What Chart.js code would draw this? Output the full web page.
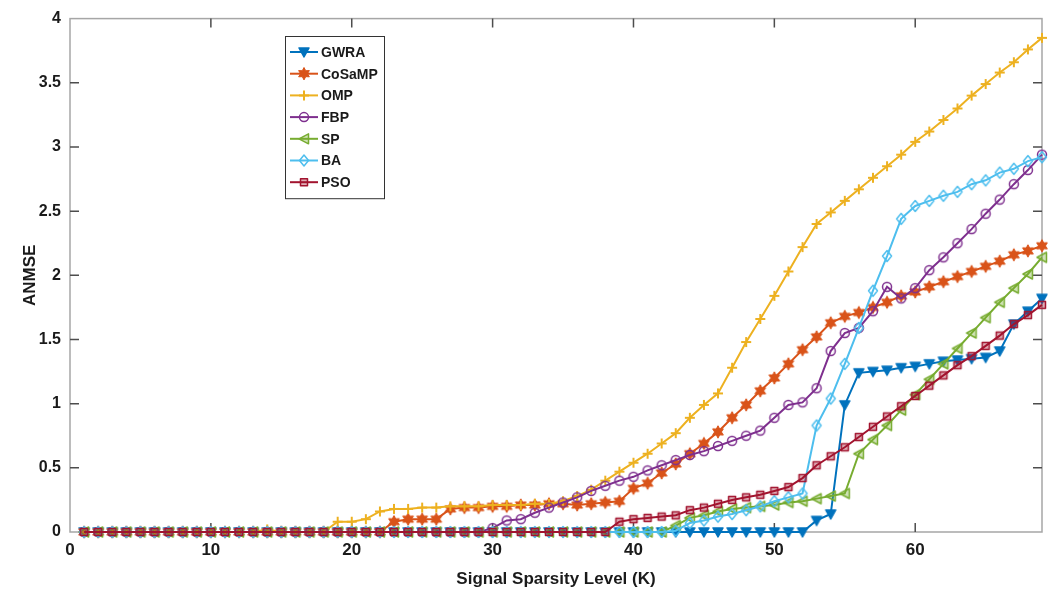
<!DOCTYPE html>
<html>
<head>
<meta charset="utf-8">
<script src="https://cdn.jsdelivr.net/npm/chart.js@4/dist/chart.umd.min.js"></script>
<style>
  html, body { margin: 0; padding: 0; background: #ffffff; }
  #wrap { width: 1052px; height: 599px; }
</style>
</head>
<body>
<div id="wrap"><canvas id="c" width="1052" height="599"></canvas></div>
<script>
// Sparsity levels K (x axis)
const sparsityLevels = [
  1, 2, 3, 4, 5, 6, 7, 8, 9, 10, 11, 12, 13, 14, 15, 16, 17, 18, 19, 20,
  21, 22, 23, 24, 25, 26, 27, 28, 29, 30, 31, 32, 33, 34, 35, 36, 37, 38, 39, 40,
  41, 42, 43, 44, 45, 46, 47, 48, 49, 50, 51, 52, 53, 54, 55, 56, 57, 58, 59, 60,
  61, 62, 63, 64, 65, 66, 67, 68, 69
];

const xTickValues = [0, 10, 20, 30, 40, 50, 60];
const yTickValues = [0, 0.5, 1, 1.5, 2, 2.5, 3, 3.5, 4];

// ANMSE per algorithm, one value per sparsity level
const gwra = [
  0, 0, 0, 0, 0, 0, 0, 0, 0, 0, 0, 0, 0, 0, 0, 0, 0, 0, 0, 0,
  0, 0, 0, 0, 0, 0, 0, 0, 0, 0, 0, 0, 0, 0, 0, 0, 0, 0, 0, 0,
  0, 0, 0, 0, 0, 0, 0, 0, 0, 0, 0, 0, 0.09, 0.14, 0.99, 1.24, 1.25, 1.26, 1.28, 1.29,
  1.31, 1.33, 1.34, 1.35, 1.36, 1.41, 1.62, 1.72, 1.82
];
const cosamp = [
  0, 0, 0, 0, 0, 0, 0, 0, 0, 0, 0, 0, 0, 0, 0, 0, 0, 0, 0, 0,
  0, 0, 0.08, 0.10, 0.10, 0.10, 0.18, 0.19, 0.19, 0.20, 0.20, 0.21, 0.21, 0.22, 0.22, 0.21, 0.22, 0.23, 0.24, 0.34,
  0.38, 0.46, 0.53, 0.61, 0.69, 0.78, 0.89, 0.99, 1.10, 1.20, 1.31, 1.42, 1.52, 1.63, 1.68, 1.71, 1.75, 1.79, 1.84, 1.87,
  1.91, 1.95, 1.99, 2.03, 2.07, 2.11, 2.16, 2.19, 2.23
];
const omp = [
  0, 0, 0, 0, 0, 0, 0, 0, 0, 0, 0, 0, 0, 0.02, 0, 0, 0, 0, 0.08, 0.08,
  0.10, 0.16, 0.18, 0.18, 0.19, 0.19, 0.20, 0.20, 0.20, 0.21, 0.21, 0.21, 0.22, 0.22, 0.24, 0.28, 0.33, 0.40, 0.47, 0.54,
  0.61, 0.69, 0.77, 0.89, 0.99, 1.08, 1.28, 1.48, 1.66, 1.84, 2.03, 2.22, 2.40, 2.49, 2.58, 2.67, 2.76, 2.85, 2.94, 3.04,
  3.12, 3.21, 3.30, 3.40, 3.49, 3.58, 3.66, 3.76, 3.85
];
const fbp = [
  0, 0, 0, 0, 0, 0, 0, 0, 0, 0, 0, 0, 0, 0, 0, 0, 0, 0, 0, 0,
  0, 0, 0, 0, 0, 0, 0, 0, 0, 0.03, 0.09, 0.10, 0.15, 0.19, 0.23, 0.27, 0.32, 0.36, 0.40, 0.43,
  0.48, 0.52, 0.56, 0.60, 0.63, 0.67, 0.71, 0.75, 0.79, 0.89, 0.99, 1.01, 1.12, 1.41, 1.55, 1.59, 1.72, 1.91, 1.82, 1.90,
  2.04, 2.14, 2.25, 2.36, 2.48, 2.59, 2.71, 2.82, 2.94
];
const sp = [
  0, 0, 0, 0, 0, 0, 0, 0, 0, 0, 0, 0, 0, 0, 0, 0, 0, 0, 0, 0,
  0, 0, 0, 0, 0, 0, 0, 0, 0, 0, 0, 0, 0, 0, 0, 0, 0, 0, 0, 0,
  0, 0, 0.05, 0.11, 0.13, 0.16, 0.18, 0.19, 0.20, 0.21, 0.23, 0.24, 0.26, 0.28, 0.30, 0.61, 0.72, 0.83, 0.95, 1.07,
  1.19, 1.31, 1.43, 1.55, 1.67, 1.79, 1.90, 2.01, 2.14
];
const ba = [
  0, 0, 0, 0, 0, 0, 0, 0, 0, 0, 0, 0, 0, 0, 0, 0, 0, 0, 0, 0,
  0, 0, 0, 0, 0, 0, 0, 0, 0, 0, 0, 0, 0, 0, 0, 0, 0, 0, 0, 0,
  0, 0, 0.01, 0.07, 0.09, 0.12, 0.14, 0.17, 0.20, 0.24, 0.27, 0.30, 0.83, 1.04, 1.31, 1.59, 1.88, 2.15, 2.44, 2.54,
  2.58, 2.62, 2.65, 2.71, 2.74, 2.80, 2.83, 2.89, 2.92
];
const pso = [
  0, 0, 0, 0, 0, 0, 0, 0, 0, 0, 0, 0, 0, 0, 0, 0, 0, 0, 0, 0,
  0, 0, 0, 0, 0, 0, 0, 0, 0, 0, 0, 0, 0, 0, 0, 0, 0, 0, 0.08, 0.10,
  0.11, 0.12, 0.13, 0.17, 0.19, 0.22, 0.25, 0.27, 0.29, 0.32, 0.35, 0.42, 0.52, 0.59, 0.66, 0.74, 0.82, 0.90, 0.98, 1.06,
  1.14, 1.22, 1.30, 1.37, 1.45, 1.53, 1.62, 1.69, 1.77
];

const seriesNames = ['GWRA', 'CoSaMP', 'OMP', 'FBP', 'SP', 'BA', 'PSO'];
const seriesValues = [gwra, cosamp, omp, fbp, sp, ba, pso];
const seriesColors = ['#0072BD', '#D95319', '#EDB120', '#7E2F8E', '#77AC30', '#4DBEEE', '#A2142F'];
const seriesMarkers = ['down', 'hex', 'plus', 'circle', 'left', 'diamond', 'square'];

// Marker shapes, drawn around the origin of the given context
function drawShape(g, kind, color) {
  g.save();
  g.strokeStyle = color;
  g.fillStyle = color;
  g.lineWidth = 1.5;
  g.lineJoin = 'round';
  g.beginPath();
  let fill = null;
  switch (kind) {
    case 'down':
      g.moveTo(-5, -4); g.lineTo(5, -4); g.lineTo(0, 5); g.closePath();
      fill = color; break;
    case 'left':
      g.moveTo(-5, 0); g.lineTo(4.5, -5); g.lineTo(4.5, 5); g.closePath();
      fill = 'rgba(119,172,48,0.35)'; break;
    case 'hex':
      for (let i = 0; i < 12; i++) {
        const r = i % 2 === 0 ? 6.2 : 3.4;
        const a = -Math.PI / 2 + i * Math.PI / 6;
        const px = r * Math.cos(a), py = r * Math.sin(a);
        if (i === 0) g.moveTo(px, py); else g.lineTo(px, py);
      }
      g.closePath();
      fill = color; g.lineWidth = 1; break;
    case 'plus':
      g.lineWidth = 2;
      g.moveTo(-5, 0); g.lineTo(5, 0); g.moveTo(0, -5); g.lineTo(0, 5);
      break;
    case 'circle':
      g.arc(0, 0, 4.5, 0, Math.PI * 2);
      break;
    case 'diamond':
      g.moveTo(0, -5.5); g.lineTo(4.5, 0); g.lineTo(0, 5.5); g.lineTo(-4.5, 0); g.closePath();
      break;
    case 'square':
      g.rect(-3.5, -3.5, 7, 7);
      fill = 'rgba(162,20,47,0.35)'; break;
  }
  if (fill) { g.fillStyle = fill; g.fill(); }
  g.stroke();
  g.restore();
}

function makeMarker(kind, color) {
  const s = 16;
  const cv = document.createElement('canvas');
  cv.width = s; cv.height = s;
  const g = cv.getContext('2d');
  g.translate(s / 2, s / 2);
  drawShape(g, kind, color);
  return cv;
}

const datasets = seriesNames.map((name, i) => ({
  label: name,
  data: sparsityLevels.map((k, j) => ({ x: k, y: seriesValues[i][j] })),
  borderColor: seriesColors[i],
  backgroundColor: seriesColors[i],
  borderWidth: 2,
  pointStyle: makeMarker(seriesMarkers[i], seriesColors[i]),
  pointRadius: 5,
  pointHoverRadius: 5,
  tension: 0,
  clip: false,
  order: seriesNames.length - 1 - i
}));

// Box around the plot area with inward ticks on all four sides
const axesBox = {
  id: 'axesBox',
  beforeDatasetsDraw(chart) {
    const { ctx, chartArea: a, scales } = chart;
    ctx.save();
    ctx.strokeStyle = '#a6a6a6';
    ctx.lineWidth = 1.5;
    ctx.strokeRect(a.left, a.top, a.right - a.left, a.bottom - a.top);
    ctx.strokeStyle = '#4d4d4d';
    ctx.lineWidth = 1.5;
    const len = 9;
    ctx.beginPath();
    xTickValues.forEach(v => {
      const px = scales.x.getPixelForValue(v);
      if (px <= a.left + 1) return;
      ctx.moveTo(px, a.bottom); ctx.lineTo(px, a.bottom - len);
      ctx.moveTo(px, a.top); ctx.lineTo(px, a.top + len);
    });
    yTickValues.forEach(v => {
      const py = scales.y.getPixelForValue(v);
      if (py <= a.top + 1 || py >= a.bottom - 1) return;
      ctx.moveTo(a.left, py); ctx.lineTo(a.left + len, py);
      ctx.moveTo(a.right, py); ctx.lineTo(a.right - len, py);
    });
    ctx.stroke();
    ctx.restore();
  }
};

// Legend panel in the upper left of the plot
const boxLegend = {
  id: 'boxLegend',
  afterDraw(chart) {
    const { ctx } = chart;
    const left = 285, top = 36, width = 99, rowH = 21.7, firstY = 52;
    const height = (seriesNames.length - 1) * rowH + 32;
    ctx.save();
    ctx.fillStyle = '#ffffff';
    ctx.fillRect(left, top, width, height);
    ctx.strokeStyle = '#333333';
    ctx.lineWidth = 1;
    ctx.strokeRect(left + 0.5, top + 0.5, width, height);
    ctx.font = 'bold 14px "Liberation Sans", Arial, sans-serif';
    ctx.textBaseline = 'middle';
    ctx.textAlign = 'left';
    seriesNames.forEach((name, i) => {
      const y = firstY + i * rowH;
      ctx.strokeStyle = seriesColors[i];
      ctx.lineWidth = 2;
      ctx.beginPath();
      ctx.moveTo(290, y); ctx.lineTo(318, y);
      ctx.stroke();
      ctx.save();
      ctx.translate(304, y);
      drawShape(ctx, seriesMarkers[i], seriesColors[i]);
      ctx.restore();
      ctx.fillStyle = '#1a1a1a';
      ctx.fillText(name, 321, y + 1);
    });
    ctx.restore();
  }
};

const FONT = '"Liberation Sans", Arial, sans-serif';

new Chart(document.getElementById('c'), {
  type: 'line',
  data: { datasets },
  options: {
    responsive: false,
    animation: false,
    events: [],
    layout: { padding: { left: 0, right: 10, top: 14, bottom: 0 } },
    plugins: { legend: { display: false }, tooltip: { enabled: false } },
    scales: {
      x: {
        type: 'linear',
        min: 0,
        max: 69,
        afterBuildTicks(scale) { scale.ticks = xTickValues.map(v => ({ value: v })); },
        afterFit(scale) { scale.height = 67; },
        grid: { display: false, drawTicks: false },
        border: { display: false },
        ticks: {
          padding: 8,
          color: '#1a1a1a',
          font: { family: FONT, size: 17, weight: 'bold' },
          maxRotation: 0,
          callback: v => String(v)
        },
        title: {
          display: true,
          text: 'Signal Sparsity Level (K)',
          color: '#1a1a1a',
          font: { family: FONT, size: 17, weight: 'bold' },
          padding: { top: 0, bottom: 9 }
        }
      },
      y: {
        type: 'linear',
        min: 0,
        max: 4,
        afterBuildTicks(scale) { scale.ticks = yTickValues.map(v => ({ value: v })); },
        afterFit(scale) { scale.width = 70; },
        grid: { display: false, drawTicks: false },
        border: { display: false },
        ticks: {
          padding: 9,
          color: '#1a1a1a',
          font: { family: FONT, size: 16, weight: 'bold' },
          callback: v => String(v)
        },
        title: {
          display: true,
          text: 'ANMSE',
          color: '#1a1a1a',
          font: { family: FONT, size: 17, weight: 'bold' },
          padding: { top: 20, bottom: 0 }
        }
      }
    }
  },
  plugins: [axesBox, boxLegend]
});
</script>
</body>
</html>
